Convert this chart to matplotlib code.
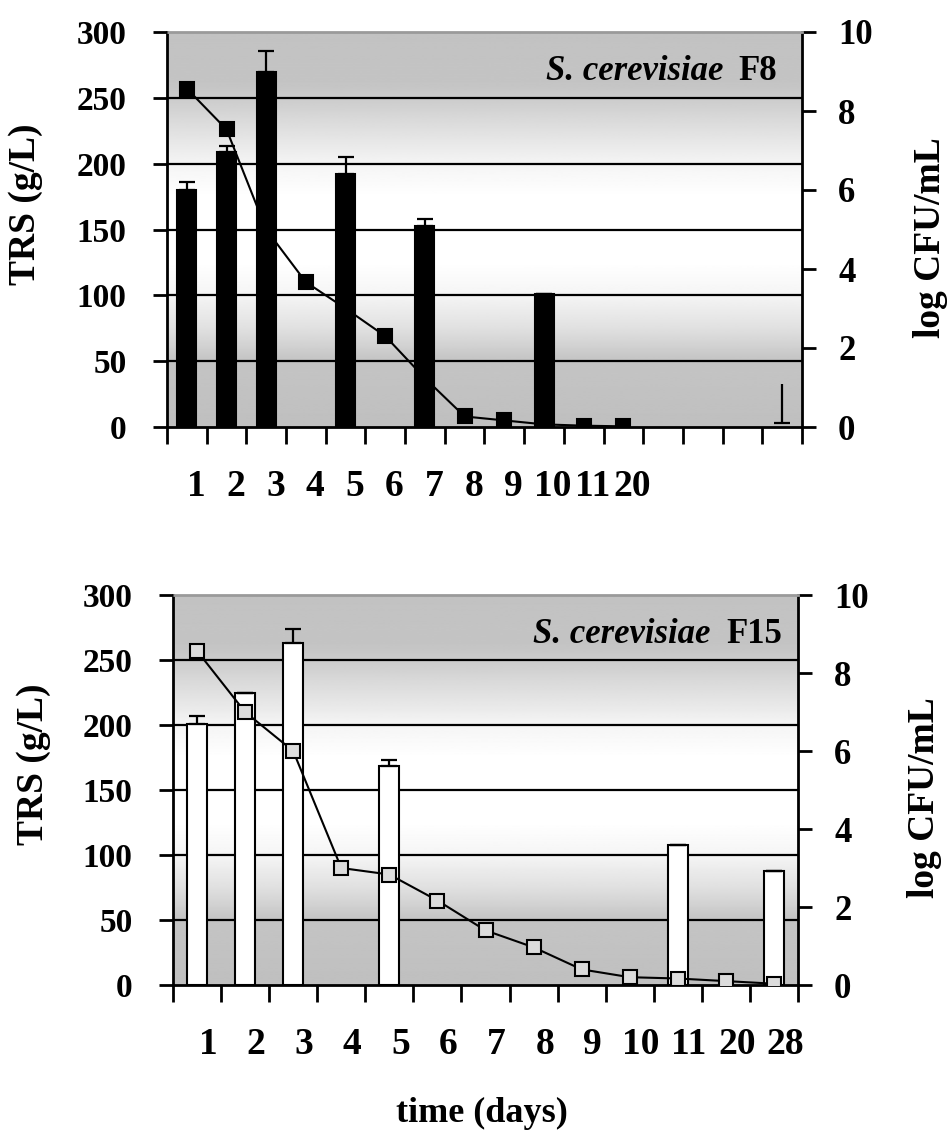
import numpy as np
import matplotlib
matplotlib.use('Agg')
import matplotlib.pyplot as plt

plt.rcParams['font.family'] = ['Liberation Serif', 'DejaVu Serif']
plt.rcParams['font.weight'] = 'bold'

# ---------------- data ----------------
# F8 panel (16 category slots, 12 labelled)
f8_labels = ['1', '2', '3', '4', '5', '6', '7', '8', '9', '10', '11', '20']
f8_slots = 16
f8_trs = [257, 226, 150, 110, 90, 69, 37, 8, 5, 2, 1, 0.5]          # TRS g/L, line
f8_bar_pos = [0, 1, 2, 4, 6, 9]
f8_cfu = [6.0, 6.95, 9.0, 6.4, 5.1, 3.37]                             # log CFU/mL, bars
f8_cfu_err = [0.2, 0.16, 0.52, 0.43, 0.17, 0.0]
f8_lone_err_pos = [15]
f8_lone_err_lo = [0.1]
f8_lone_err_hi = [1.1]

# F15 panel (13 slots)
f15_labels = ['1', '2', '3', '4', '5', '6', '7', '8', '9', '10', '11', '20', '28']
f15_slots = 13
f15_trs = [257, 210, 180, 90, 85, 65, 42, 29, 12, 6, 5, 3, 1]
f15_bar_pos = [0, 1, 2, 4, 10, 12]
f15_cfu = [6.7, 7.5, 8.78, 5.61, 3.59, 2.92]
f15_cfu_err = [0.19, 0.0, 0.36, 0.17, 0.0, 0.0]

trs_ticks = [0, 50, 100, 150, 200, 250, 300]
trs_grid = [50, 100, 150, 200, 250]
cfu_ticks = [0, 2, 4, 6, 8, 10]

# background gradient (gray - white - gray), axes fraction anchors
grad_at = [0, 0.167, 0.25, 0.333, 0.417, 0.583, 0.667, 0.75, 0.833, 0.867, 1.0]
grad_val = [0.75, 0.77, 0.88, 0.96, 1.0, 1.0, 0.96, 0.88, 0.80, 0.77, 0.76]


def panel(rect, labels, n_slots, trs, bar_pos, cfu, cfu_err, bar_face, bar_w,
          mk_face, strain, title_x):
    ax = fig.add_axes(rect)       # bars, log CFU (right side)
    ax2 = ax.twinx()              # TRS line (left side)
    ax.yaxis.tick_right()
    ax.yaxis.set_label_position('right')
    ax2.yaxis.tick_left()
    ax2.yaxis.set_label_position('left')

    yy = np.linspace(0, 1, 400)
    g = np.interp(yy, grad_at, grad_val)
    ax.imshow(g[:, None], cmap='gray', vmin=0, vmax=1, origin='lower',
              extent=[0, 1, 0, 1], transform=ax.transAxes, aspect='auto', zorder=0)

    ax.hlines(trs_grid, 0, 1, transform=ax2.get_yaxis_transform(),
              colors='black', lw=1.6, zorder=1)

    ax.bar(bar_pos, cfu, width=bar_w, color=bar_face, edgecolor='black', lw=1.5,
           yerr=[np.zeros(len(cfu_err)), cfu_err], capsize=6,
           error_kw=dict(ecolor='black', elinewidth=1.6, capthick=1.6), zorder=2)

    ax2.plot(np.arange(len(trs)), trs, color='black', lw=1.5, marker='s', ms=9.5,
             mfc=mk_face, mec='black', mew=1.5, zorder=3)

    ax.set_xlim(-0.5, n_slots - 0.5)
    ax.set_ylim(0, 10)
    ax2.set_ylim(0, 300)

    ax.set_xticks(np.arange(-0.5, n_slots), labels=[])
    ax.set_xticks(np.arange(len(labels)) + 0.23, labels, minor=True)
    ax.tick_params(axis='x', which='major', direction='out', length=12, width=2)
    ax.tick_params(axis='x', which='minor', length=0, pad=30, labelsize=27)

    ax.set_yticks(cfu_ticks)
    ax.tick_params(axis='y', direction='out', length=10, width=2, labelsize=25, pad=16)
    ax2.set_yticks(trs_ticks)
    ax2.tick_params(axis='y', direction='out', length=10, width=2, labelsize=24, pad=19)

    for s in ['left', 'top', 'bottom', 'right']:
        ax2.spines[s].set_visible(False)
    for s in ['left', 'right', 'bottom']:
        ax.spines[s].set_color('black')
        ax.spines[s].set_linewidth(2)
    ax.spines['top'].set_color('#9a9a9a')
    ax.spines['top'].set_linewidth(2)

    ax2.set_ylabel('TRS (g/L)', fontsize=27, fontweight='bold')
    ax2.yaxis.set_label_coords(-0.195, 0.565)
    ax.set_ylabel('log CFU/mL', fontsize=27, fontweight='bold', rotation=90)
    ax.yaxis.set_label_coords(1.175, 0.48)

    t = ax2.text(title_x, 0.899, strain, transform=ax2.transAxes, ha='right',
                 va='center', fontsize=25, fontweight='bold')
    ax2.annotate('S. cerevisiae', xy=(0, 0), xycoords=t, xytext=(-11, 0),
                 textcoords='offset points', ha='right', va='bottom',
                 fontsize=25, fontweight='bold', style='italic')
    return ax, ax2


fig = plt.figure(figsize=(9.5, 11.35), dpi=100)

ax_a, ax_a2 = panel([167 / 950, 1 - 427 / 1135, 635 / 950, 395 / 1135],
                    f8_labels, f8_slots, f8_trs, f8_bar_pos, f8_cfu, f8_cfu_err,
                    'black', 0.48, 'black', 'F8', 0.961)
ax_a.vlines(f8_lone_err_pos, f8_lone_err_lo, f8_lone_err_hi, colors='black', lw=1.6, zorder=2)
ax_a.plot(f8_lone_err_pos, f8_lone_err_lo, ls='none', marker='_', ms=12, mew=1.6,
          color='black', zorder=2)

ax_b, ax_b2 = panel([173 / 950, 1 - 985 / 1135, 625 / 950, 390 / 1135],
                    f15_labels, f15_slots, f15_trs, f15_bar_pos, f15_cfu, f15_cfu_err,
                    'white', 0.42, '#dcdcdc', 'F15', 0.974)

fig.text(482 / 950, 1 - 1113 / 1135, 'time (days)', ha='center', va='center',
         fontsize=26, fontweight='bold')

fig.savefig('out.png', dpi=100)
